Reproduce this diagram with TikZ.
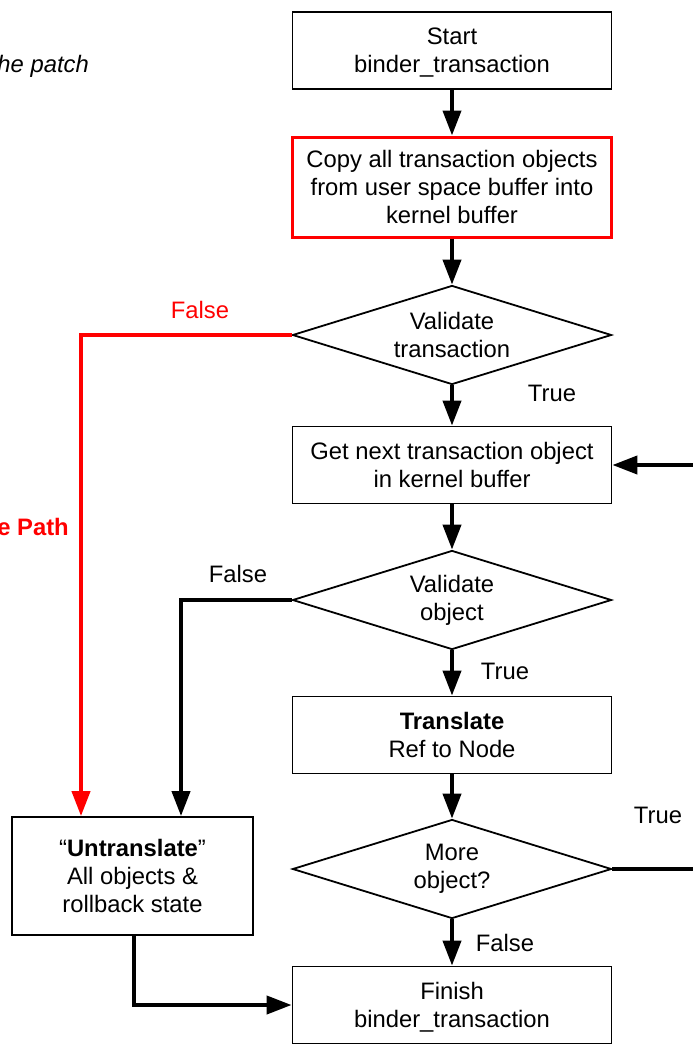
\documentclass[tikz,border=0pt]{standalone}
\usepackage{fontspec}
\setmainfont{Liberation Sans}
\usetikzlibrary{arrows.meta,shapes.geometric}
\definecolor{pathred}{RGB}{255,0,0}
\newcommand{\usc}{\smash{\_}}
\tikzset{
  txt/.style={font=\fontsize{23.8}{27.7}\selectfont, align=center},
  box/.style={txt, draw, line width=1.8pt, minimum width=319pt, minimum height=77pt, inner sep=0pt},
  redbox/.style={box, draw=pathred, line width=3pt},
  dia/.style={draw, shape=diamond, line width=1.8pt, minimum width=319pt, minimum height=99pt, inner sep=0pt},
  flow/.style={line width=4pt, -{Triangle[length=25pt,width=18pt]}},
  redflow/.style={flow, color=pathred},
  lbl/.style={txt, inner sep=0pt},
}
\begin{document}
\begin{tikzpicture}[x=1pt,y=-1pt]
\useasboundingbox (0,0) rectangle (693,1044);

% main column
\node[box] (start) at (452,50.5) {Start\\binder\usc transaction};
\node[redbox, minimum height=100pt] (copy) at (452,187) {Copy all transaction objects\\from user space buffer into\\kernel buffer};
\node[dia, label={[txt]center:Validate\\transaction}] (vt) at (452,335) {};
\node[box] (next) at (452,465) {Get next transaction object\\in kernel buffer};
\node[dia, label={[txt]center:Validate\\object}] (vo) at (452,600) {};
\node[box] (tr) at (452,735) {\textbf{Translate}\\Ref to Node};
\node[dia, label={[txt]center:More\\object?}] (more) at (452,869) {};
\node[box] (fin) at (452,1005) {Finish\\binder\usc transaction};

% rollback box
\node[box, minimum width=241pt, minimum height=118pt] (untr) at (132.5,876) {“\textbf{Untranslate}”\\All objects \&\\rollback state};

% loose ends at the right border
\coordinate (inR) at (700,465);
\coordinate (outR) at (700,869);

% connectors
\draw[flow] (start) -- (copy);
\draw[flow] (copy) -- (vt);
\draw[flow] (vt) -- (next);
\draw[flow] (next) -- (vo);
\draw[flow] (vo) -- (tr);
\draw[flow] (tr) -- (more);
\draw[flow] (more) -- (fin);
\draw[redflow] (vt.west) -| ([xshift=-51.5pt]untr.north);
\draw[flow] (vo.west) -| ([xshift=48.5pt]untr.north);
\draw[flow] ([xshift=1.5pt]untr.south) |- (fin.west);
\draw[flow] (inR) -- (next.east);
\draw[line width=4pt] (more.east) -- (outR);

% branch labels
\node[lbl, text=pathred] (fl1) at (200,310) {False};
\node[lbl] (t1) at (552,393) {True};
\node[lbl] (f2) at (238,574) {False};
\node[lbl] (t2) at (505,671) {True};
\node[lbl] (t3) at (658,815) {True};
\node[lbl] (f3) at (505,943) {False};

% side captions
\node[lbl, anchor=east, font=\fontsize{23.8}{27.7}\selectfont\itshape] (note) at (89,66) {he patch};
\node[lbl, anchor=east, text=pathred, font=\fontsize{23.8}{27.7}\selectfont\bfseries] (vpath) at (69,527) {e Path};
\end{tikzpicture}
\end{document}
